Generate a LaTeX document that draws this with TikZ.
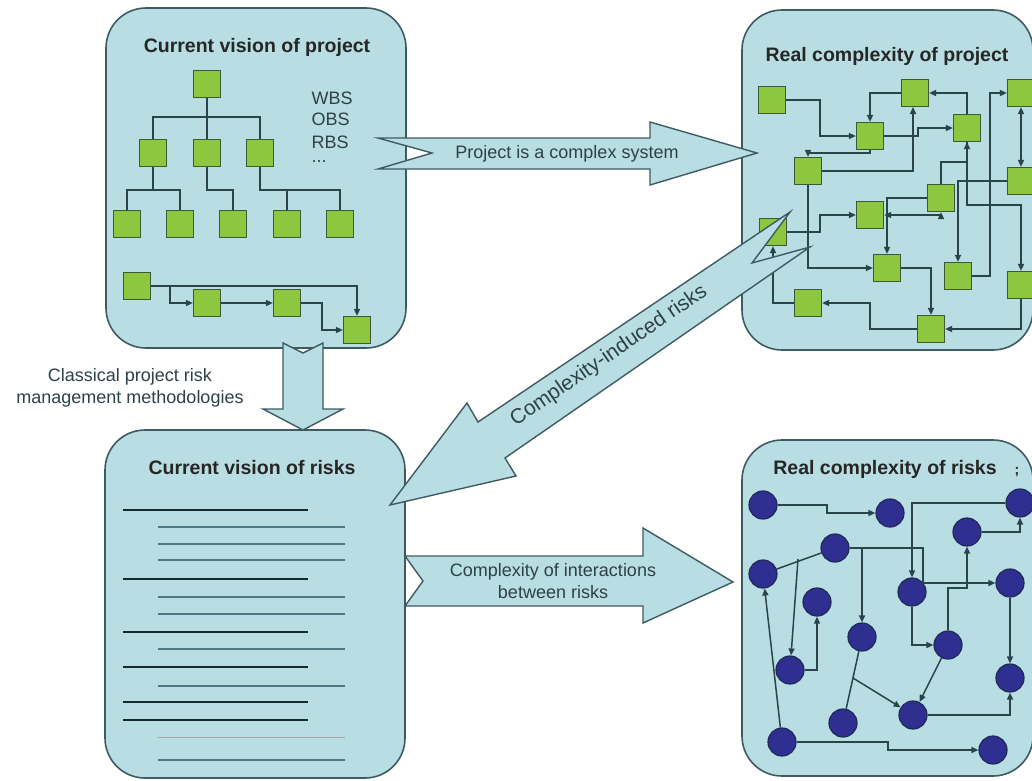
\documentclass[tikz,border=0pt]{standalone}
\usepackage{fontspec}
\setmainfont{Liberation Sans}
\usetikzlibrary{arrows.meta}

\definecolor{boxblue}{HTML}{B8DDE3}
\definecolor{boxline}{HTML}{3E5B63}
\definecolor{sqgreen}{HTML}{8DC63F}
\definecolor{sqline}{HTML}{3D5A36}
\definecolor{rkblue}{HTML}{2E2F90}
\definecolor{rkline}{HTML}{1F2A55}
\definecolor{wire}{HTML}{2A444C}
\definecolor{txtgray}{HTML}{2E4148}
\definecolor{darkline}{HTML}{17292E}
\definecolor{subline}{HTML}{4D7782}

\begin{document}
\begin{tikzpicture}[x=1pt,y=-1pt,
  bx/.style={draw=boxline,line width=1.6pt,fill=boxblue,rounded corners=40pt},
  sq/.style={draw=sqline,line width=1.2pt,fill=sqgreen,minimum size=27pt,inner sep=0pt},
  rk/.style={circle,draw=rkline,line width=1.2pt,fill=rkblue,minimum size=28pt,inner sep=0pt},
  tree/.style={draw=wire,line width=1.5pt},
  link/.style={tree,-{Triangle[length=7pt,width=6pt]}},
  link2/.style={tree,{Triangle[length=7pt,width=6pt]}-{Triangle[length=7pt,width=6pt]}},
  big/.style={draw=boxline,line width=1.4pt,fill=boxblue,line join=miter},
  ttl/.style={font=\fontsize{19.5}{22}\selectfont\bfseries,text=black!85},
  lbl/.style={font=\fontsize{18}{22}\selectfont,text=txtgray,align=center},
  hd/.style={draw=darkline,line width=2.4pt},
  sub/.style={draw=subline,line width=1.5pt}]
\clip (0,0) rectangle (1032,780);

\draw[bx] (106,8) rectangle (406,348);
\draw[bx] (742,10) rectangle (1033,350);
\draw[bx] (105,430) rectangle (405,778);
\draw[bx] (742,440) rectangle (1033,776);

\node[ttl] (t1) at (257,47) {Current vision of project};
\node[ttl] (t2) at (887,56) {Real complexity of project};
\node[ttl] (t3) at (252,468) {Current vision of risks};
\node[ttl] (t4) at (885,469) {Real complexity of risks};
\node[ttl,font=\fontsize{14}{16}\selectfont\bfseries] (t5) at (1017,472) {;};

% current vision of project
\node[sq] (r) at (207,84) {};
\node[sq] (a1) at (153,153) {};
\node[sq] (a2) at (207,153) {};
\node[sq] (a3) at (260,153) {};
\node[sq] (b1) at (127,224) {};
\node[sq] (b2) at (180,224) {};
\node[sq] (b3) at (233,224) {};
\node[sq] (b4) at (287,224) {};
\node[sq] (b5) at (340,224) {};

\draw[tree] (r) -- (a2);
\draw[tree] (a1) |- (260,117) -- (a3);
\draw[tree] (a1) -- (153,190);
\draw[tree] (b1) |- (180,190) -- (b2);
\draw[tree] (a2) |- (233,190) -- (b3);
\draw[tree] (a3) |- (340,190) -- (b5);
\draw[tree] (287,190) -- (b4);

\node[lbl,anchor=west] (w1) at (308,98) {WBS};
\node[lbl,anchor=west] (w2) at (308,119) {OBS};
\node[lbl,anchor=west] (w3) at (308,142) {RBS};
\node[lbl,anchor=west] (w4) at (308,162) {...};

\node[sq] (c1) at (137,286) {};
\node[sq] (c2) at (207,303) {};
\node[sq] (c3) at (287,303) {};
\node[sq] (c4) at (357,330) {};

\draw[link] (c1) -| (c4);
\draw[link] (170,286) |- (c2);
\draw[link] (c2) -- (c3);
\draw[link] (c3) -| (322,330) -- (c4);

% real complexity of project
\node[sq] (q1) at (772,100) {};
\node[sq] (q2) at (915,93) {};
\node[sq] (q3) at (870,136) {};
\node[sq] (q4) at (967,128) {};
\node[sq] (q5) at (1021,93) {};
\node[sq] (q6) at (808,171) {};
\node[sq] (q7) at (941,198) {};
\node[sq] (q8) at (1021,181) {};
\node[sq] (q9) at (870,215) {};
\node[sq] (q10) at (773,232) {};
\node[sq] (q11) at (887,268) {};
\node[sq] (q12) at (958,276) {};
\node[sq] (q13) at (1021,285) {};
\node[sq] (q14) at (808,303) {};
\node[sq] (q15) at (931,329) {};

\draw[link] (q1) -- (820,100) |- (q3);
\draw[link] (q2) -| (q3);
\draw[link] (q4) |- (q2);
\draw[link] (q3) -- (918,136) |- (q4);
\draw[link] (q3) -- (870,153) -| (q6);
\draw[link] (q6) -| (913,107);
\draw[link] (q12) -- (990,276) |- (q5);
\draw[link2] (q5) -- (q8);
\draw[link] (q8) -| (q12);
\draw[link] (q7) |- (967,162) -- (q4);
\draw[link] (q4) -- (967,205) -| (q13);
\draw[link] (q7) -| (q11);
\draw[link2] (q9) -| (q7);
\draw[link] (q10) -- (820,232) |- (q9);
\draw[link] (q6) |- (q11);
\draw[link] (q11) -| (q15);
\draw[link] (q13) |- (q15);
\draw[link] (q15) -- (870,329) |- (q14);
\draw[link] (q14) -| (q10);

% current vision of risks
\draw[hd] (123,510) -- (308,510);
\draw[sub] (158,527) -- (345,527);
\draw[sub] (158,544) -- (345,544);
\draw[sub] (158,560) -- (345,560);
\draw[hd] (123,579) -- (308,579);
\draw[sub] (158,597) -- (345,597);
\draw[sub] (158,614) -- (345,614);
\draw[hd] (123,632) -- (308,632);
\draw[sub] (158,649) -- (345,649);
\draw[hd] (123,667) -- (308,667);
\draw[sub] (158,686) -- (345,686);
\draw[hd] (123,702) -- (308,702);
\draw[hd] (123,720) -- (308,720);
\draw[sub,draw=gray!70,line width=1pt] (158,737) -- (345,737);
\draw[sub] (158,760) -- (345,760);

% real complexity of risks
\node[rk] (k1) at (763,505) {};
\node[rk] (k2) at (890,513) {};
\node[rk] (k3) at (1020,503) {};
\node[rk] (k4) at (967,532) {};
\node[rk] (k5) at (835,548) {};
\node[rk] (k6) at (763,574) {};
\node[rk] (k7) at (817,602) {};
\node[rk] (k8) at (912,592) {};
\node[rk] (k9) at (1010,583) {};
\node[rk] (k10) at (862,637) {};
\node[rk] (k11) at (948,645) {};
\node[rk] (k12) at (790,670) {};
\node[rk] (k13) at (1010,678) {};
\node[rk] (k14) at (913,715) {};
\node[rk] (k15) at (843,723) {};
\node[rk] (k16) at (782,742) {};
\node[rk] (k17) at (993,750) {};

\draw[link] (k1) -- (827,505) |- (k2);
\draw[link] (k3) -| (k8);
\draw[link] (k4) -| (k3);
\draw[tree] (k5) -- (k6);
\draw[link] (798,559) -- (k12);
\draw[link] (k5) -- (923,548) |- (k9);
\draw[link] (862,548) -- (k10);
\draw[link] (k8) |- (k11);
\draw[link] (k11) |- (967,588) -- (k4);
\draw[link] (k12) -| (k7);
\draw[link] (k9) -- (k13);
\draw[link] (k14) -| (k13);
\draw[link] (k11) -- (k14);
\draw[tree] (k10) -- (k15);
\draw[link] (853,678) -- (k14);
\draw[link] (k16) -- (k6);
\draw[link] (k16) -- (888,742) |- (k17);

% big arrows
\draw[big] (378,138) -- (650,138) -- (650,122) -- (757,153) -- (650,185)
  -- (650,169) -- (378,169) -- (432,153) -- cycle;
\node[lbl] (m1) at (567,154) {Project is a complex system};

\draw[big] (283,343) -- (303,353) -- (323,343) -- (323,409) -- (343,409)
  -- (303,430) -- (263,409) -- (283,409) -- cycle;
\node[lbl] (m2) at (130,388) {Classical project risk\\management methodologies};

\draw[big] (790,212) -- (478,422) -- (467,403) -- (390,505) -- (516,476)
  -- (505,458) -- (810,247) -- (752,263) -- cycle;
\node[lbl,font=\fontsize{21}{24}\selectfont,rotate=34.5] (m3) at (609,356) {Complexity-induced risks};

\draw[big] (405,556) -- (643,556) -- (643,528) -- (733,582) -- (643,623)
  -- (643,606) -- (405,606) -- (423,581) -- cycle;
\node[lbl] (m4) at (553,581) {Complexity of interactions\\between risks};
\end{tikzpicture}
\end{document}
